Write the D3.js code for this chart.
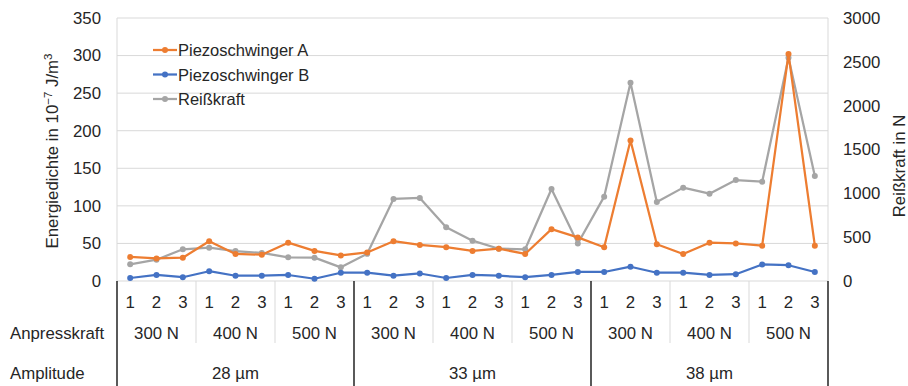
<!DOCTYPE html>
<html><head><meta charset="utf-8">
<script src="https://cdn.jsdelivr.net/npm/d3@7"></script>
<style>
html,body{margin:0;padding:0;background:#fff;}
text{font-family:"Liberation Sans",Arial,sans-serif;fill:#262626;}
</style></head>
<body><svg id="c" width="908" height="386"></svg>
<script>
const amplitudes = ["28 µm","33 µm","38 µm"];
const forces = ["300 N","400 N","500 N"];
const repeats = ["1","2","3"];
const leftTicks = [0,50,100,150,200,250,300,350];
const rightTicks = [0,500,1000,1500,2000,2500,3000];
const piezoA = [32,30,31,53,36,35,51,40,34, 38,53,48,45,40,43,36,69,58, 45,187,49,36,51,50,47,302,47];
const piezoB = [4,8,5,13,7,7,8,3,11, 11,7,10,4,8,7,5,8,12, 12,19,11,11,8,9,22,21,12];
const reiss  = [190,243,362,380,342,320,270,266,156, 310,936,947,613,460,368,362,1050,428, 962,2262,901,1065,996,1152,1133,2548,1198];

const categories = [];
amplitudes.forEach(a=>forces.forEach(f=>repeats.forEach(r=>categories.push(a+"|"+f+"|"+r))));

const FS = "16.8px";
const svg = d3.select("#c");
const L=117, R=828, T=18, B=281;
const x = d3.scaleBand().domain(categories).range([L,R]).padding(0);
const yL = d3.scaleLinear().domain([0,350]).range([B,T]);
const yR = d3.scaleLinear().domain([0,3000]).range([B,T]);
const cx = c => x(c)+x.bandwidth()/2;

// gridlines
svg.append("g").selectAll("line").data(leftTicks).join("line")
  .attr("x1",L).attr("x2",R).attr("y1",d=>yL(d)).attr("y2",d=>yL(d))
  .attr("stroke","#d9d9d9").attr("stroke-width",1);
svg.append("line").attr("x1",L).attr("x2",L).attr("y1",T).attr("y2",B).attr("stroke","#d9d9d9");
svg.append("line").attr("x1",R).attr("x2",R).attr("y1",T).attr("y2",B).attr("stroke","#d9d9d9");

// left axis labels
const gl = svg.append("g").attr("transform",`translate(${L},0)`)
  .call(d3.axisLeft(yL).tickValues(leftTicks).tickSize(0).tickPadding(16).tickFormat(d3.format("d")));
gl.select(".domain").remove();
gl.selectAll("text").style("font-size",FS).style("font-family","Liberation Sans, Arial, sans-serif").attr("fill","#262626");
// right axis labels
const gr = svg.append("g").attr("transform",`translate(${R},0)`)
  .call(d3.axisRight(yR).tickValues(rightTicks).tickSize(0).tickPadding(15).tickFormat(d3.format("d")));
gr.select(".domain").remove();
gr.selectAll("text").style("font-size",FS).style("font-family","Liberation Sans, Arial, sans-serif").attr("fill","#262626");

// axis titles
const lt = svg.append("text").attr("transform",`translate(58,151) rotate(-90)`)
  .attr("text-anchor","middle").style("font-size",FS);
lt.append("tspan").text("Energiedichte in 10");
lt.append("tspan").text("−7").attr("dy",-6).style("font-size","11.5px");
lt.append("tspan").text(" J/m").attr("dy",6);
lt.append("tspan").text("3").attr("dy",-6).style("font-size","11.5px");
svg.append("text").attr("transform",`translate(905,166) rotate(-90)`)
  .attr("text-anchor","middle").style("font-size",FS).text("Reißkraft in N");

// multi-level category axis
const bw = x.bandwidth();
const axG = svg.append("g");
categories.forEach(c=>{
  const r = c.split("|")[2];
  axG.append("text").attr("x",cx(c)).attr("y",308).attr("text-anchor","middle").style("font-size",FS).text(r);
});
amplitudes.forEach((a,ai)=>{
  forces.forEach((f,fi)=>{
    const first = a+"|"+f+"|"+repeats[0];
    const last = a+"|"+f+"|"+repeats[2];
    const x0 = x(first), x1 = x(last)+bw;
    axG.append("text").attr("x",(x0+x1)/2).attr("y",339).attr("text-anchor","middle").style("font-size",FS).text(f);
    if(fi>0) axG.append("line").attr("x1",x0).attr("x2",x0).attr("y1",B).attr("y2",343).attr("stroke","#d9d9d9");
  });
  const x0 = x(a+"|"+forces[0]+"|"+repeats[0]);
  const x1 = x(a+"|"+forces[2]+"|"+repeats[2])+bw;
  axG.append("text").attr("x",(x0+x1)/2).attr("y",379).attr("text-anchor","middle").style("font-size",FS).text(a);
  axG.append("line").attr("x1",x0).attr("x2",x0).attr("y1",B).attr("y2",386).attr("stroke","#000").attr("stroke-width",1.3);
  if(ai===amplitudes.length-1) axG.append("line").attr("x1",x1).attr("x2",x1).attr("y1",B).attr("y2",386).attr("stroke","#000").attr("stroke-width",1.3);
});
svg.append("text").attr("x",10).attr("y",339).style("font-size",FS).text("Anpresskraft");
svg.append("text").attr("x",10).attr("y",379).style("font-size",FS).text("Amplitude");

// series
const series = [
  {name:"Piezoschwinger A", vals:piezoA, y:yL, color:"#ED7D31"},
  {name:"Piezoschwinger B", vals:piezoB, y:yL, color:"#4472C4"},
  {name:"Reißkraft", vals:reiss, y:yR, color:"#A5A5A5"}
];
const drawOrder = [series[2], series[0], series[1]];
drawOrder.forEach(s=>{
  const line = d3.line().x((d,i)=>cx(categories[i])).y(d=>s.y(d));
  svg.append("path").attr("d",line(s.vals)).attr("fill","none").attr("stroke",s.color).attr("stroke-width",2.25).attr("stroke-linejoin","round");
  svg.append("g").selectAll("circle").data(s.vals).join("circle")
    .attr("cx",(d,i)=>cx(categories[i])).attr("cy",d=>s.y(d)).attr("r",3).attr("fill",s.color);
});

// legend
const legY = [50,74.5,99];
series.forEach((s,i)=>{
  const g = svg.append("g");
  g.append("line").attr("x1",153).attr("x2",177).attr("y1",legY[i]).attr("y2",legY[i]).attr("stroke",s.color).attr("stroke-width",2.25);
  g.append("circle").attr("cx",165).attr("cy",legY[i]).attr("r",3).attr("fill",s.color);
  g.append("text").attr("x",178).attr("y",legY[i]+6).style("font-size","16.5px").text(s.name);
});
</script></body></html>
